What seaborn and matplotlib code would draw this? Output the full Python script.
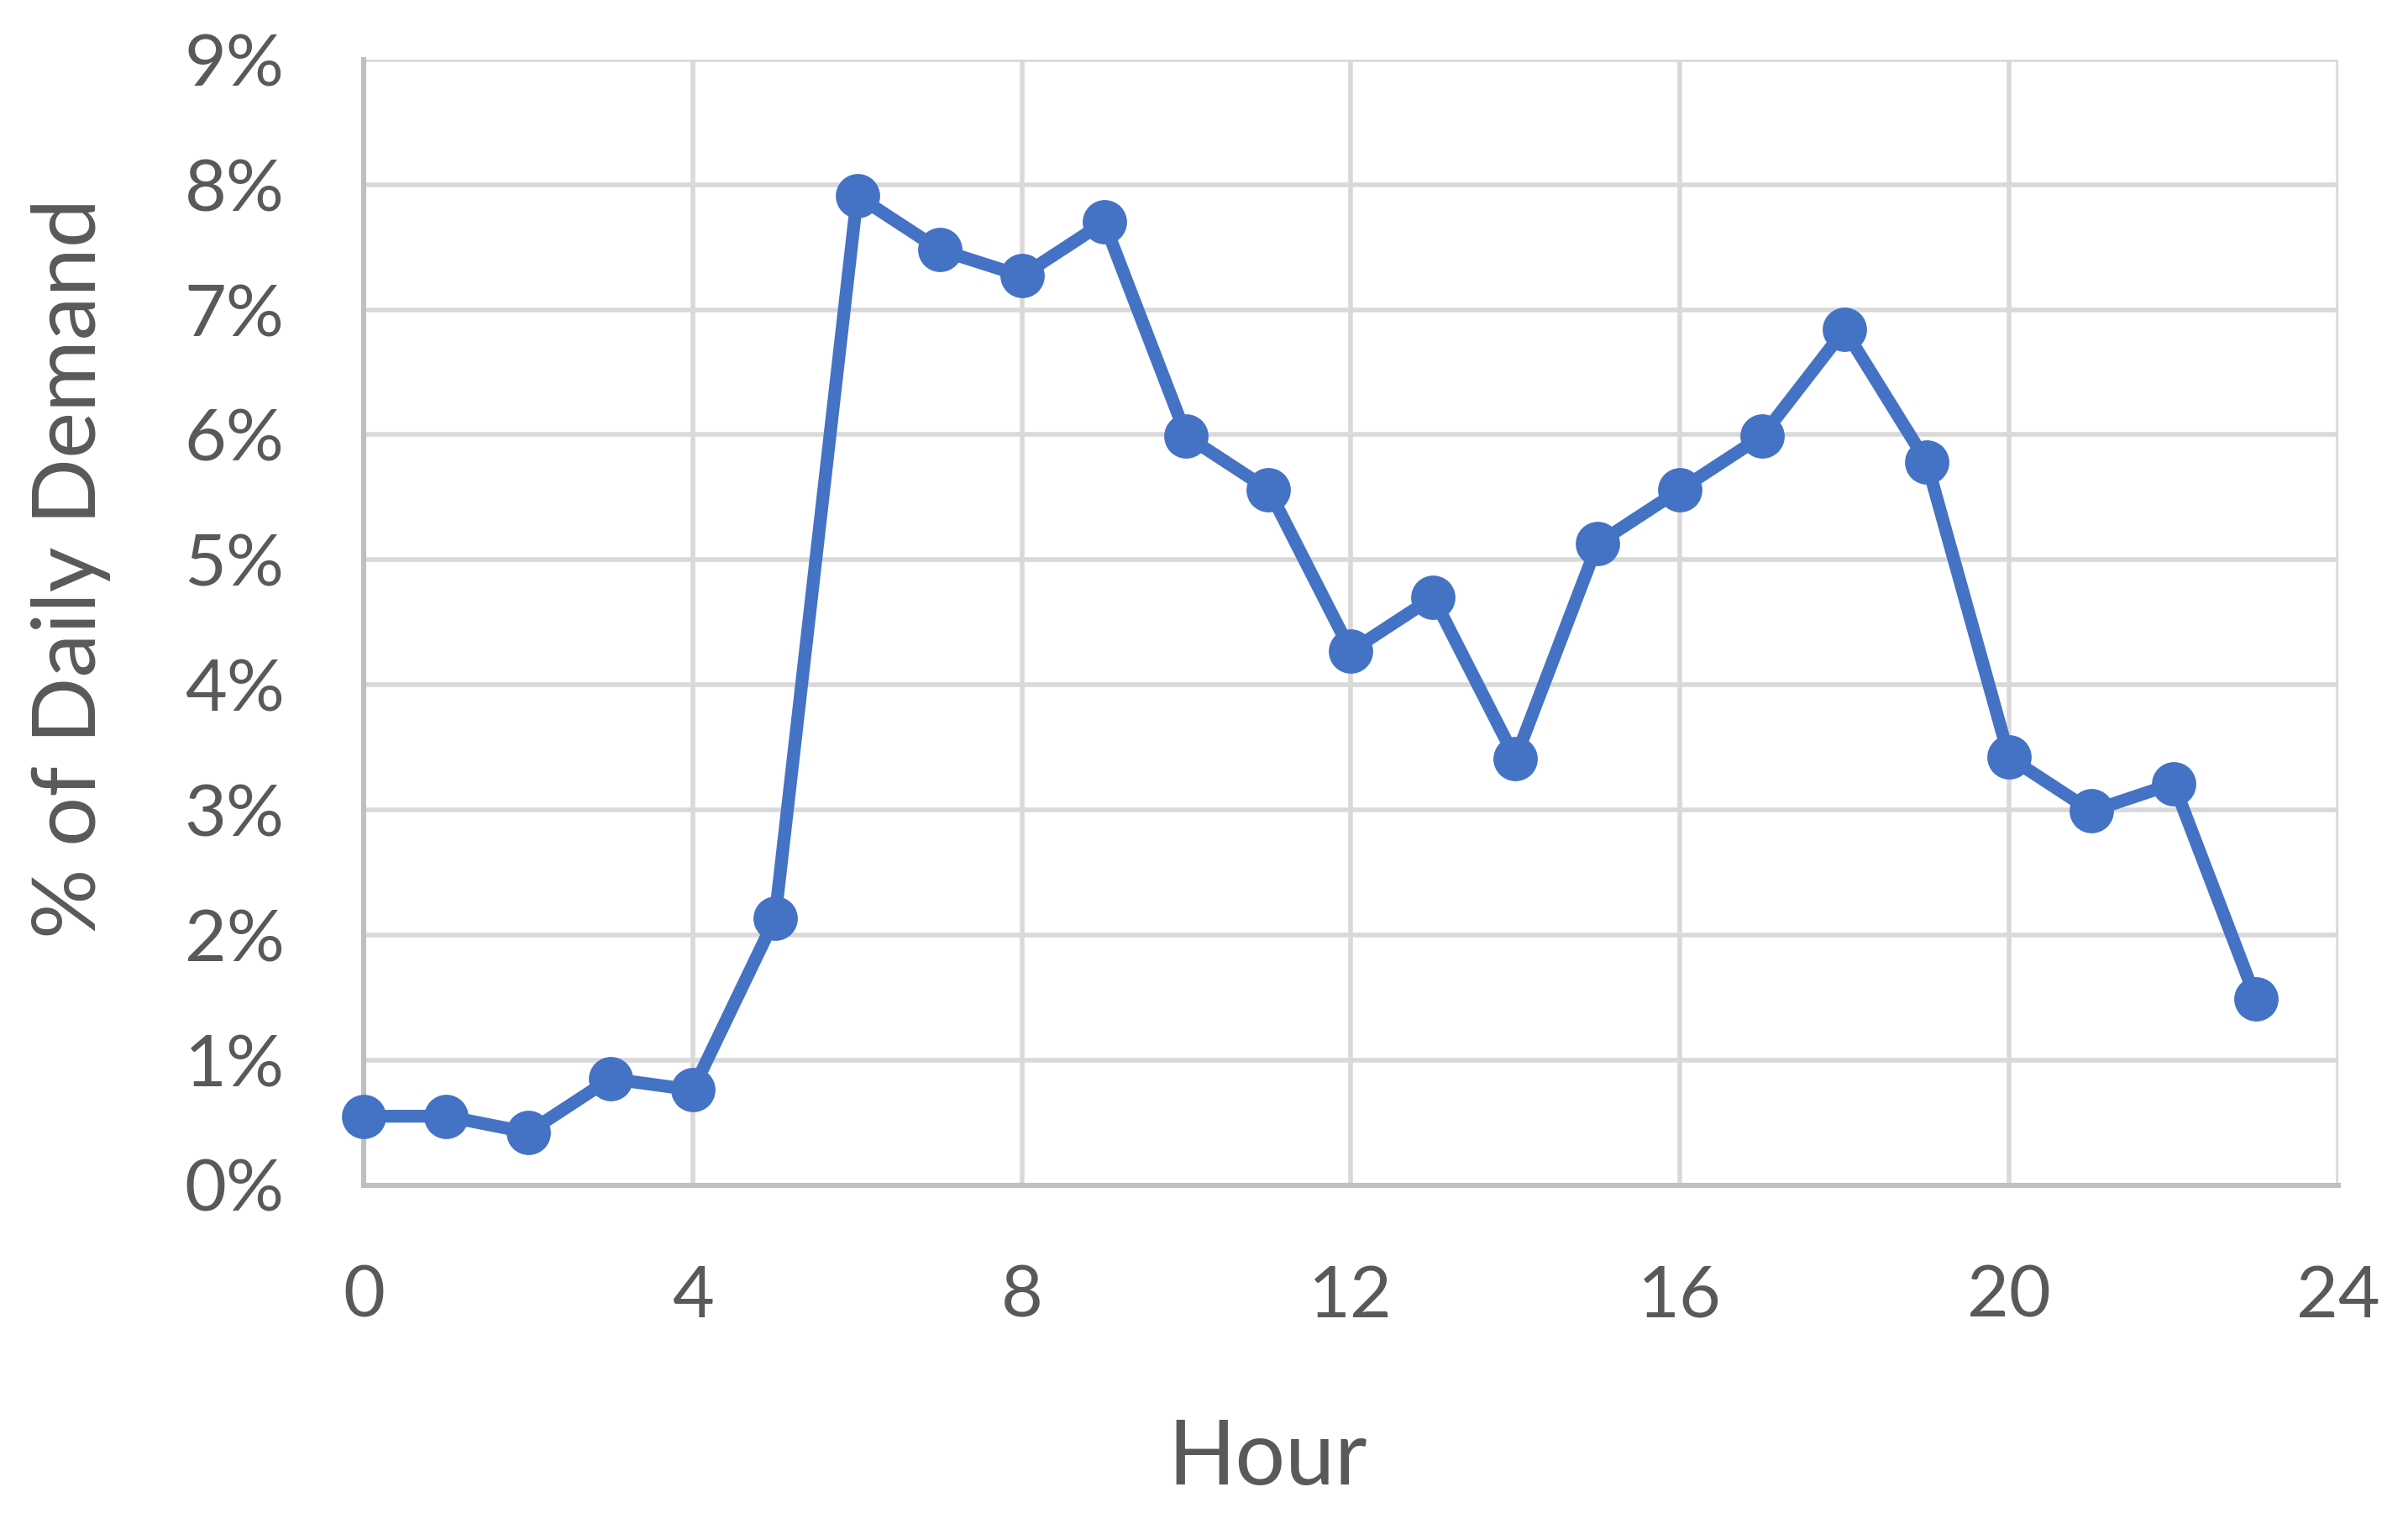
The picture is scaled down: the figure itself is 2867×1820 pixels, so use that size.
import numpy as np
import pandas as pd
import matplotlib
matplotlib.use("Agg")
import matplotlib.pyplot as plt
import seaborn as sns
from matplotlib.ticker import PercentFormatter, MultipleLocator

# data (share of daily demand, %)
hours = list(range(24))
demand = [0.55, 0.55, 0.42, 0.85, 0.76, 2.13, 7.91, 7.48, 7.27, 7.70, 5.99, 5.56,
          4.27, 4.70, 3.41, 5.13, 5.56, 5.99, 6.84, 5.78, 3.42, 2.99, 3.21, 1.49]

df = pd.DataFrame({"Hour": hours, "Demand": demand})

sns.set_theme(style="white")
plt.rcParams["font.family"] = ["Lato", "DejaVu Sans"]

text_c = "#595959"
blue = "#4472C4"

fig, ax = plt.subplots(figsize=(14.335, 9.1), dpi=200)
fig.subplots_adjust(left=0.151, right=0.971, top=0.961, bottom=0.225)

sns.lineplot(data=df, x="Hour", y="Demand", ax=ax, color=blue, linewidth=5.5,
             marker="o", markersize=19, markeredgewidth=0, clip_on=False, zorder=3)

ax.set_xlim(0, 24)
ax.set_ylim(0, 9)
ax.xaxis.set_major_locator(MultipleLocator(4))
ax.yaxis.set_major_locator(MultipleLocator(1))
ax.yaxis.set_major_formatter(PercentFormatter(decimals=0))

ax.grid(True, color="#d9d9d9", linewidth=2)
ax.set_axisbelow(True)
for s in ["top", "right"]:
    ax.spines[s].set_visible(False)
for s in ["left", "bottom"]:
    ax.spines[s].set_color("#bfbfbf")
    ax.spines[s].set_linewidth(2.2)

ax.tick_params(axis="both", length=0, labelsize=31, labelcolor=text_c)
ax.tick_params(axis="x", pad=34)
ax.tick_params(axis="y", pad=34)

ax.set_xlabel("Hour", fontsize=38, color=text_c)
ax.set_ylabel("% of Daily Demand", fontsize=37.5, color=text_c)
ax.xaxis.set_label_coords(0.4576, -0.208)
ax.yaxis.set_label_coords(-0.128, 0.548)

fig.savefig("out.png", dpi=200, facecolor="white")
